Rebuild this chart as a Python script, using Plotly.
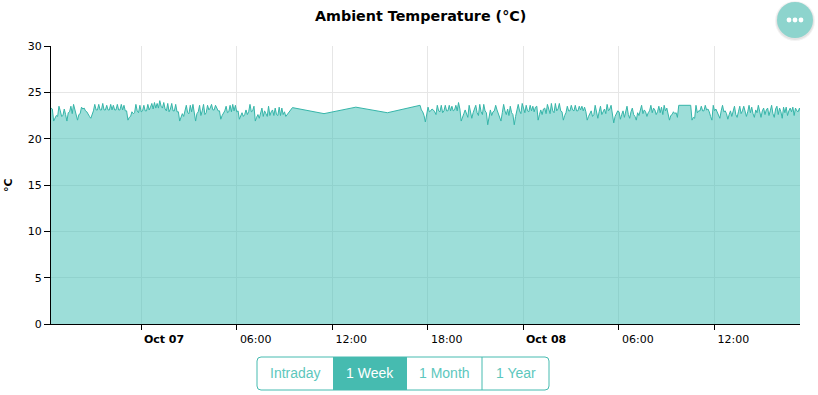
from datetime import datetime, timedelta
import plotly.graph_objects as go

series_name = "Ambient Temperature"
title_text = "Ambient Temperature (°C)"
y_label = "°C"
tick_times = ["2023-10-07 00:00", "2023-10-07 06:00", "2023-10-07 12:00", "2023-10-07 18:00",
              "2023-10-08 00:00", "2023-10-08 06:00", "2023-10-08 12:00"]
tick_labels = ["<b>&nbsp;&nbsp;Oct 07</b>", "06:00", "12:00", "18:00", "<b>&nbsp;&nbsp;Oct 08</b>", "06:00", "12:00"]
button_labels = ["Intraday", "1 Week", "1 Month", "1 Year"]

first_run_start = "2023-10-06 18:20"
first_run_values = [
    23.3, 23.2, 21.9, 22.3, 22.5, 22.4, 23.5, 23.0, 22.4, 22.5, 23.2, 22.6, 21.9, 22.8, 22.9, 23.5,
    22.7, 23.7, 23.0, 22.6, 22.0, 22.6, 22.7, 23.4, 23.2, 23.3, 23.0, 22.9, 22.6, 22.4, 22.2, 22.6,
    23.0, 23.7, 23.1, 23.1, 23.7, 23.1, 23.1, 23.8, 23.1, 23.1, 23.6, 23.1, 23.1, 23.7, 23.1, 23.6,
    23.1, 23.1, 23.7, 23.1, 23.1, 23.7, 23.1, 23.6, 23.0, 23.0, 22.0, 22.3, 22.4, 22.9, 22.7, 22.8,
    23.7, 23.0, 22.8, 23.6, 22.9, 23.0, 23.6, 23.0, 23.0, 23.7, 23.1, 23.4, 23.8, 23.2, 23.9, 23.3,
    23.8, 23.3, 24.1, 23.5, 23.3, 23.9, 23.2, 23.0, 23.8, 22.9, 23.2, 23.8, 23.0, 23.0, 23.7, 22.9,
    22.9, 21.9, 22.4, 22.7, 22.4, 22.9, 23.6, 22.8, 22.7, 23.6, 22.9, 23.7, 22.9, 21.9, 22.7, 22.9,
    23.6, 22.5, 23.0, 23.7, 22.6, 22.8, 23.6, 23.1, 23.3, 23.7, 23.1, 23.1, 23.6, 23.2, 23.0, 23.0,
    22.1, 22.5, 22.8, 23.0, 23.5, 22.8, 22.9, 23.6, 22.9, 23.7, 23.0, 23.6, 22.9, 23.0, 22.1, 22.5,
    22.8, 22.4, 22.6, 23.1, 22.6, 22.9, 23.7, 22.9, 23.0, 23.5, 21.9, 22.3, 22.6, 22.2, 22.8, 23.3,
    22.4, 23.0, 22.7, 22.4, 23.5, 22.5, 22.9, 23.1, 22.5, 23.3, 22.6, 22.5, 23.4, 22.5, 23.3, 22.6,
    22.9, 22.4,
]
gap_times = ["2023-10-07 09:30", "2023-10-07 11:29", "2023-10-07 13:29", "2023-10-07 15:28", "2023-10-07 17:31"]
gap_values = [23.35, 22.7, 23.4, 22.8, 23.6]
last_run_start = "2023-10-07 17:36"
last_run_values = [
    23.1, 22.9, 22.5, 21.8, 22.7, 23.4, 22.9, 23.0, 23.2, 23.1, 22.9, 22.6, 23.6, 23.0, 22.9, 23.6,
    22.8, 23.0, 23.6, 23.0, 23.0, 23.6, 23.0, 23.5, 23.0, 23.1, 23.6, 23.0, 23.9, 23.2, 21.9,
    22.4, 22.7, 23.1, 22.6, 22.3, 23.6, 22.7, 22.2, 22.8, 23.2, 23.6, 22.8, 22.5, 23.7, 22.9, 22.6, 23.7, 23.0, 22.8, 21.5,
    22.3, 23.1, 22.5, 22.9, 23.0, 23.6, 23.1, 22.7, 22.3, 21.9, 22.8, 23.7, 23.0, 22.6, 23.2, 22.5, 23.5, 22.8, 22.6, 21.5,
    22.4, 23.0, 23.7, 23.0, 22.7, 23.8, 23.1, 22.8, 23.6, 23.0, 22.9, 23.6, 23.0, 23.5, 22.9, 23.4, 23.5, 22.0,
    22.6, 23.1, 22.6, 23.2, 23.3, 22.7, 23.7, 23.0, 22.7, 23.8, 23.0, 22.8, 23.8, 23.0, 23.2, 23.8, 23.0, 22.9, 22.0,
    22.5, 22.8, 23.5, 23.0, 23.0, 23.6, 23.1, 23.0, 23.6, 23.0, 23.0, 23.5, 23.1, 23.5, 23.0, 23.4, 22.9, 22.0,
    22.4, 22.7, 23.0, 22.4, 22.6, 23.6, 22.9, 22.2, 22.9, 23.5, 22.6, 22.9, 23.2, 22.7, 23.7, 23.0, 23.2, 23.6, 22.8, 21.7,
    22.4, 22.8, 23.0, 22.9, 22.1, 22.6, 23.0, 22.3, 22.9, 23.5, 22.6, 22.2, 22.9, 23.3, 22.6, 22.4, 22.0,
    22.8, 22.5, 23.0, 23.6, 22.7, 23.1, 22.9, 22.4, 22.8, 23.0, 23.6, 22.8, 23.3, 23.1, 22.6, 22.9, 23.5, 22.8, 23.4, 22.6, 23.6, 23.0, 23.3, 22.7, 22.0,
    22.5, 22.6, 22.9, 22.7, 22.8, 22.3, 23.6,
    23.6, 23.6, 23.6, 23.6, 23.6, 23.6, 23.6, 23.6, 23.6, 22.0,
    22.3, 22.2, 23.6, 22.8, 23.0, 23.0, 23.5, 23.0, 23.0, 23.6, 23.1, 23.2, 22.9, 22.4, 22.0,
    23.6, 23.0, 23.2, 22.9, 22.6, 22.2, 23.0, 23.6, 22.9, 23.0, 22.7, 22.1, 22.6, 23.0, 22.4, 23.0,
    23.5, 22.6, 22.3, 22.9, 23.5, 22.7, 23.0, 23.5, 22.9, 22.4, 22.9, 23.6, 22.8, 23.4, 22.7, 22.3,
    23.1, 22.8, 23.6, 23.0, 22.3, 23.0, 23.3, 22.6, 23.1, 23.3, 22.5, 23.0, 23.6, 22.7, 22.3, 23.2,
    23.5, 22.6, 23.3, 22.9, 22.2, 23.4, 22.8, 23.4, 22.5, 23.0, 23.3, 22.9, 23.4, 22.5, 23.3, 23.0,
    22.9, 23.3, 22.8, 23.2,
]
x_range = ["2023-10-06 18:20", "2023-10-08 17:23"]
y_ticks = [0, 5, 10, 15, 20, 25, 30]

TEAL = "#46BBB0"
W, H = 818, 395
L, R, T, B = 51, 18, 46, 71


def step_times(start, count):
    t0 = datetime.strptime(start, "%Y-%m-%d %H:%M")
    return [t0 + timedelta(minutes=5 * i) for i in range(count)]


times = (step_times(first_run_start, len(first_run_values))
         + [datetime.strptime(t, "%Y-%m-%d %H:%M") for t in gap_times]
         + step_times(last_run_start, len(last_run_values)))
values = first_run_values + gap_values + last_run_values

fig = go.Figure(go.Scatter(x=times, y=values, mode="lines", name=series_name,
                           line=dict(color="#36B5A9", width=1), fill="tozeroy",
                           fillcolor="rgba(60,190,180,0.5)", hoverinfo="x+y"))


def fx(x):  # window pixel -> paper fraction
    return (x - L) / (W - L - R)


def fy(y):
    return (H - B - y) / (H - T - B)


shapes, annotations = [], []
edges = [257, 333, 407, 482, 549]
top, bottom = 357, 390
r = 4
path = (f"M {fx(edges[0]+r)} {fy(top)} L {fx(edges[-1]-r)} {fy(top)} "
        f"Q {fx(edges[-1])} {fy(top)} {fx(edges[-1])} {fy(top+r)} L {fx(edges[-1])} {fy(bottom-r)} "
        f"Q {fx(edges[-1])} {fy(bottom)} {fx(edges[-1]-r)} {fy(bottom)} L {fx(edges[0]+r)} {fy(bottom)} "
        f"Q {fx(edges[0])} {fy(bottom)} {fx(edges[0])} {fy(bottom-r)} L {fx(edges[0])} {fy(top+r)} "
        f"Q {fx(edges[0])} {fy(top)} {fx(edges[0]+r)} {fy(top)} Z")
shapes.append(dict(type="rect", xref="paper", yref="paper", x0=fx(edges[1]), x1=fx(edges[2]),
                   y0=fy(top), y1=fy(bottom), fillcolor=TEAL, line=dict(width=0), layer="above"))
shapes.append(dict(type="path", xref="paper", yref="paper", path=path, layer="above",
                   line=dict(color=TEAL, width=1)))
shapes.append(dict(type="line", xref="paper", yref="paper", x0=fx(edges[3]), x1=fx(edges[3]),
                   y0=fy(top), y1=fy(bottom), line=dict(color=TEAL, width=1), layer="above"))
for i, lab in enumerate(button_labels):
    annotations.append(dict(text=lab, xref="paper", yref="paper", showarrow=False,
                            xanchor="center", yanchor="middle",
                            x=fx((edges[i] + edges[i + 1]) / 2), y=fy((top + bottom) / 2 - 0.5),
                            font=dict(family="Liberation Sans", size=14,
                                      color="#FFFFFF" if i == 1 else "#5CC7BD")))

# floating round menu button
for rad, col in [(20, "rgba(0,0,0,0.05)"), (19, "rgba(0,0,0,0.06)"), (18, "#8DD4CD")]:
    cy = 20 if rad == 18 else 21
    shapes.append(dict(type="circle", xref="paper", yref="paper", layer="above",
                       x0=fx(795 - rad), x1=fx(795 + rad), y0=fy(cy + rad), y1=fy(cy - rad),
                       fillcolor=col, line=dict(width=0)))
for dx in (-6, 0, 6):
    shapes.append(dict(type="circle", xref="paper", yref="paper", layer="above",
                       x0=fx(795 + dx - 2.4), x1=fx(795 + dx + 2.4), y0=fy(20 + 2.4), y1=fy(20 - 2.4),
                       fillcolor="#FFFFFF", line=dict(width=0)))

annotations.append(dict(text=f"<b>{title_text}</b>", xref="paper", yref="paper", showarrow=False,
                        xanchor="center", yanchor="middle",
                        x=fx(420.5), y=fy(16), font=dict(family="DejaVu Sans", size=14.3, color="#000000")))
annotations.append(dict(text=f"<b>{y_label}</b>", xref="paper", yref="paper", showarrow=False,
                        xanchor="center", yanchor="middle",
                        x=fx(8), y=fy(185), textangle=-90,
                        font=dict(family="DejaVu Sans", size=11, color="#000000")))

fig.update_layout(
    width=W, height=H, autosize=False, showlegend=False,
    margin=dict(l=L, r=R, t=T, b=B, pad=0),
    paper_bgcolor="#FFFFFF", plot_bgcolor="#FFFFFF",
    font=dict(family="DejaVu Sans", size=11, color="#000000"),
    shapes=shapes, annotations=annotations,
    xaxis=dict(range=x_range, tickmode="array", tickvals=tick_times, ticktext=tick_labels,
               ticks="outside", ticklen=5, tickcolor="#000000", tickwidth=1,
               showline=True, linecolor="#000000", linewidth=1,
               showgrid=True, gridcolor="#E6E6E6", gridwidth=1, zeroline=False,
               ticklabelshift=19, tickangle=0),
    yaxis=dict(range=[0, 30], tickmode="array", tickvals=y_ticks, ticksuffix="\u00a0",
               ticks="outside", ticklen=6, tickcolor="#000000", tickwidth=1,
               showline=True, linecolor="#000000", linewidth=1,
               showgrid=True, gridcolor="#E6E6E6", gridwidth=1, zeroline=False),
)

fig.write_html("out.html", config={"displayModeBar": False},
               post_script="document.body.style.margin='0';document.documentElement.style.overflow='hidden';")
